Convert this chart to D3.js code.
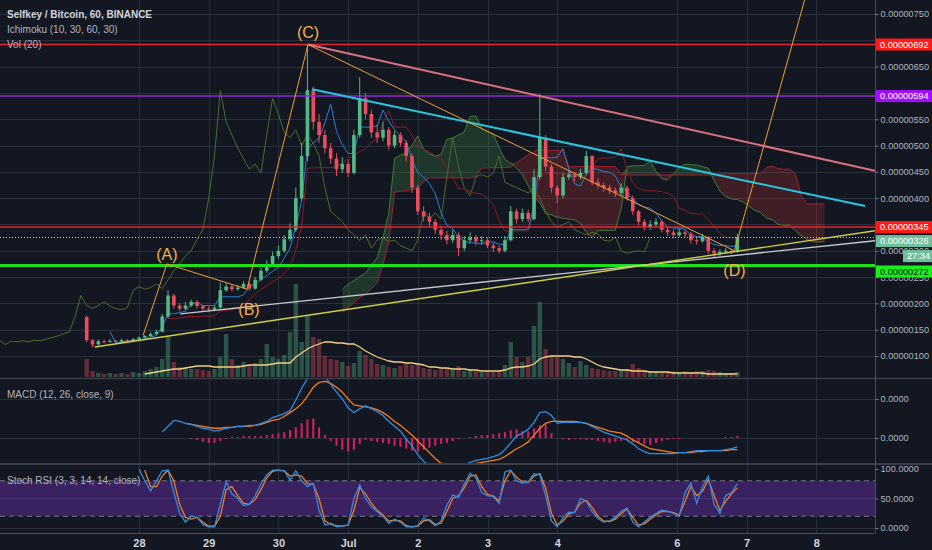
<!DOCTYPE html>
<html>
<head>
<meta charset="utf-8">
<script src="https://cdn.jsdelivr.net/npm/d3@7"></script>
<style>
html, body { margin: 0; padding: 0; background: #131722; overflow: hidden; }
svg { display: block; font-family: "Liberation Sans", Arial, sans-serif; }
</style>
</head>
<body>
<svg id="chart" width="932" height="550"></svg>
<script>
// Prices in satoshi (1e-8 BTC). Bar 0 = Jun 27 06:00.
var opens = [174,130,122,128,127,129,127,130,129,132,
  135,138,142,146,175,215,196,190,196,203,
  195,190,188,192,225,232,227,230,237,228,
  245,262,275,290,300,322,340,400,480,605,
  545,520,495,475,455,465,448,520,590,560,
  525,515,530,500,520,505,480,420,375,365,
  355,340,330,320,330,305,320,325,318,320,
  310,305,300,320,375,360,372,360,440,515,
  460,420,405,440,445,440,448,480,430,425,
  420,415,410,420,400,375,355,345,350,355,
  340,335,330,335,332,320,318,326,300,295,
  298,300,298];
var closes = [130,122,128,127,129,127,130,129,132,135,
  138,142,146,175,215,196,190,196,203,195,
  190,188,192,225,232,227,230,237,228,245,
  262,275,290,300,322,340,400,480,605,545,
  520,495,475,455,465,448,520,590,560,525,
  515,530,500,520,505,480,420,375,365,355,
  340,330,320,330,305,320,325,318,320,310,
  305,300,320,375,360,372,360,440,515,460,
  420,405,440,445,440,448,480,430,425,420,
  415,410,420,400,375,355,345,350,355,340,
  335,330,335,332,320,318,326,300,295,298,
  300,298,326];
var highs = [177,132,131,131,132,131,133,132,134,137,
  140,145,150,180,225,218,200,203,207,206,
  197,194,196,240,238,236,235,242,240,250,
  268,282,298,310,330,352,420,505,692,612,
  560,530,505,485,478,472,530,630,600,568,
  540,545,535,528,525,510,485,425,385,372,
  360,348,338,340,335,328,335,330,328,325,
  315,310,328,385,380,380,378,455,598,520,
  465,425,448,452,450,456,490,482,438,430,
  425,420,428,424,405,378,360,358,362,358,
  345,340,342,340,336,326,332,328,305,303,
  305,304,332];
var lows = [126,117,120,124,125,125,126,127,128,131,
  134,136,140,145,172,190,185,187,193,190,
  186,185,185,190,222,223,224,228,224,226,
  242,258,272,285,296,318,336,395,470,530,
  505,485,465,442,448,440,445,515,550,515,
  505,508,492,495,498,470,410,368,355,345,
  332,320,312,315,290,300,315,310,312,305,
  298,295,297,318,352,355,355,358,435,452,
  410,390,400,435,432,435,445,425,418,412,
  408,402,405,395,368,348,338,340,345,335,
  328,324,326,325,314,312,315,294,288,290,
  294,293,296];
var volumes = [18,6,4,3,4,3,4,3,5,4,
  6,8,10,18,40,15,10,9,8,8,
  7,6,8,20,43,18,12,15,12,14,
  18,33,20,18,22,45,93,35,61,40,
  38,21,18,17,15,11,14,26,22,18,
  13,12,10,9,11,13,12,14,9,8,
  7,8,9,7,11,6,7,6,5,6,
  5,6,12,35,20,15,20,51,75,28,
  22,20,18,14,10,16,12,9,8,7,
  6,6,7,8,13,9,7,6,6,5,
  5,6,5,6,5,6,6,7,6,5,
  4,4,5];
var volumeMA = [null,null,null,null,null,null,null,null,null,null,
  3,4,5,6,7,8,8,9,10,11,
  11,11,10,10,10,10,10,11,12,12,
  12,12,13,14,14,14,20,24,28,31,
  33,35,35,34,34,33,33,30,26,23,
  20,18,16,15,15,14,14,13,12,10,
  10,9,9,8,8,8,7,7,6,6,
  6,6,7,9,10,10,11,13,18,20,
  21,21,21,21,20,20,18,15,12,10,
  9,8,7,7,6,6,6,5,5,5,
  5,4,4,4,4,4,4,3,3,3,
  3,3,3];
var macdLine = [null,null,null,null,null,null,null,null,null,null,
  null,null,null,0.6,1.2,1.8,1.7,1.5,1.4,1.2,
  1.0,0.9,0.7,0.8,1.0,1.1,1.2,1.2,1.3,1.3,
  1.5,1.7,2.1,2.3,2.5,2.8,3.9,5.1,6.1,6.9,
  7.1,6.3,5.5,4.7,4.0,3.1,2.6,3.0,3.3,3.0,
  2.7,2.3,1.7,1.2,0.7,-0.1,-0.8,-1.7,-2.4,-2.9,
  -3.2,-3.4,-3.5,-3.4,-3.2,-2.8,-2.5,-2.3,-2.2,-2.1,
  -1.9,-1.7,-1.2,-0.5,0.2,0.5,0.9,1.6,2.6,2.7,
  2.3,1.5,1.6,1.6,1.6,1.6,1.5,1.2,0.9,0.6,
  0.4,0.2,0,-0.2,-0.6,-1.1,-1.4,-1.6,-1.6,-1.6,
  -1.6,-1.6,-1.5,-1.5,-1.4,-1.3,-1.3,-1.3,-1.3,-1.3,
  -1.2,-1.1,-0.9];
var signalLine = [null,null,null,null,null,null,null,null,null,null,
  null,null,null,null,null,null,null,1.5,1.4,1.3,
  1.2,1.1,1.0,1.0,1.1,1.1,1.2,1.2,1.2,1.3,
  1.4,1.6,1.8,1.9,2.2,2.6,3.0,3.5,4.3,5.2,
  5.7,5.8,5.6,5.2,4.7,4.0,3.4,3.3,3.2,3.1,
  2.9,2.6,2.2,1.7,1.3,0.8,0.3,-0.3,-0.9,-1.5,
  -2.1,-2.6,-2.9,-3.0,-3.1,-3.0,-2.8,-2.6,-2.5,-2.4,
  -2.3,-2.2,-1.9,-1.5,-1.1,-0.8,-0.4,0.3,1.0,1.5,
  1.7,1.7,1.7,1.7,1.7,1.6,1.5,1.3,1.1,0.9,
  0.7,0.6,0.5,0.2,-0.2,-0.5,-0.8,-1.1,-1.2,-1.3,
  -1.4,-1.5,-1.5,-1.5,-1.5,-1.4,-1.4,-1.3,-1.3,-1.3,
  -1.3,-1.2,-1.2];
var macdHist = [null,null,null,null,null,null,null,null,null,null,
  null,null,null,null,null,null,null,0.0,-0.1,-0.2,
  -0.4,-0.5,-0.5,-0.3,-0.1,0.1,0.1,0.2,0.2,0.2,
  0.2,0.3,0.4,0.5,0.6,0.8,1.1,1.5,1.9,2.0,
  1.1,0.3,-0.3,-0.8,-1.2,-1.4,-1.2,-0.6,-0.2,-0.3,
  -0.4,-0.5,-0.6,-0.8,-0.9,-1.1,-1.3,-1.4,-1.2,-1.0,
  -0.8,-0.6,-0.5,-0.3,-0.1,0.0,0.1,0.2,0.3,0.3,
  0.4,0.5,0.6,0.8,0.9,0.7,0.7,1.0,1.3,1.4,
  0.5,0.0,-0.1,-0.2,-0.1,-0.1,-0.2,-0.2,-0.3,-0.4,
  -0.5,-0.4,-0.3,-0.2,-0.4,-0.5,-0.6,-0.7,-0.5,-0.3,
  -0.2,-0.1,-0.1,0.0,0.0,0.0,0.0,0.0,0.0,0.0,
  0.1,0.1,0.2];
var stochK = [null,null,null,null,null,null,null,null,null,100,
  80,63,80,97,98,60,25,10,20,18,
  6,2,2,40,78,58,50,38,40,55,
  75,90,98,98,97,81,97,80,70,76,
  30,5,8,2,3,5,50,73,50,36,
  28,20,8,15,10,2,2,4,17,12,
  4,12,39,56,52,75,93,85,60,55,
  53,42,95,98,80,76,78,92,90,55,
  12,2,18,27,26,50,45,28,16,10,
  12,18,28,34,10,2,10,18,25,30,
  28,25,20,60,76,42,70,88,40,25,
  55,60,75];
var stochD = [null,null,null,null,null,null,null,null,null,null,
  98,70,70,88,98,80,40,18,15,18,
  10,3,3,20,65,70,55,42,40,48,
  65,85,96,98,97,88,90,88,75,74,
  50,12,6,4,3,5,30,68,58,42,
  30,22,12,13,12,4,2,3,12,14,
  6,8,28,50,55,68,88,90,70,57,
  54,46,80,97,86,78,77,88,92,68,
  25,5,12,24,27,42,47,35,20,12,
  11,15,24,32,18,5,7,15,22,28,
  28,26,22,45,70,55,62,82,55,30,
  45,58,68];

// axis labels
var dayLabels = ["28", "29", "30", "Jul", "2", "3", "4", "6", "7", "8"];
var dayBars = [9, 21, 33, 45, 57, 69, 81, 101.6, 113.6, 125.6];
var priceTicks = [100, 150, 200, 250, 300, 350, 400, 450, 500, 550, 600, 650, 700, 750];

// user drawings, in (bar, price)
var waveBars = [9.7, 13.8, 27.6, 38.1, 111.5, 124.1];
var wavePrices = [139, 275, 227, 692, 300, 797];
var waveNames = ["(A)", "(B)", "(C)", "(D)"];
var pinkBars = [38.1, 135.7], pinkPrices = [692, 452];
var cyanBars = [38.8, 134], cyanPrices = [607, 385];
var yellowBars = [1.4, 135.7], yellowPrices = [117, 338];
var greyBars = [16.1, 135.7], greyPrices = [180, 319];
var levels = [692, 594, 345, 272];
var lastPrice = 326;

var W = 932, H = 550, axisX = 875;
var mainBottom = 377, macdTop = 379, macdBottom = 463, rsiTop = 465, rsiBottom = 533;
var upC = "#53b987", dnC = "#eb4d5c", gridC = "#2a2f3d", textC = "#b2b5be";
var axisFont = 9.2;

var x = d3.scaleLinear().domain([0, 135.7]).range([86.7, axisX]);
var yP = d3.scaleLinear().domain([100, 750]).range([356, 14]);
var yV = d3.scaleLinear().domain([0, 100]).range([mainBottom, mainBottom - 100]);
var yM = d3.scaleLinear().domain([0, 4]).range([438, 399]);
var yR = d3.scaleLinear().domain([0, 100]).range([528, 469]);
var fmtP = function(v) { return (v * 1e-8).toFixed(8); };

var svg = d3.select("#chart");
svg.append("rect").attr("width", W).attr("height", H).attr("fill", "#131722");

var defs = svg.append("defs");
function clip(id, y0, y1) {
  defs.append("clipPath").attr("id", id).append("rect")
    .attr("x", 0).attr("y", y0).attr("width", axisX).attr("height", y1 - y0);
}
clip("clipMain", 0, mainBottom);
clip("clipMacd", macdTop, macdBottom);
clip("clipRsi", rsiTop, rsiBottom);

// grid
var grid = svg.append("g").attr("stroke", gridC).attr("stroke-width", 1);
grid.selectAll(".vg").data(dayBars).enter().append("line")
  .attr("x1", function(d) { return Math.round(x(d)) + 0.5; })
  .attr("x2", function(d) { return Math.round(x(d)) + 0.5; })
  .attr("y1", 0).attr("y2", rsiBottom);
grid.selectAll(".hg").data(priceTicks).enter().append("line")
  .attr("x1", 0).attr("x2", axisX)
  .attr("y1", function(d) { return Math.round(yP(d)) + 0.5; })
  .attr("y2", function(d) { return Math.round(yP(d)) + 0.5; });
[0, 4].forEach(function(v) {
  grid.append("line").attr("x1", 0).attr("x2", axisX)
    .attr("y1", Math.round(yM(v)) + 0.5).attr("y2", Math.round(yM(v)) + 0.5);
});
[0, 50].forEach(function(v) {
  grid.append("line").attr("x1", 0).attr("x2", axisX)
    .attr("y1", Math.round(yR(v)) + 0.5).attr("y2", Math.round(yR(v)) + 0.5);
});

/** Ichimoku (10, 30, 60, 30) on 1h = (5, 15, 30, 15) on 2h bars */
function midRange(period, i) {
  if (i < period - 1) return null;
  return (d3.max(highs.slice(i - period + 1, i + 1)) + d3.min(lows.slice(i - period + 1, i + 1))) / 2;
}
var shift = 15;
var tenkan = closes.map(function(c, i) { return {k: i, v: midRange(5, i)}; });
var kijun = closes.map(function(c, i) { return {k: i, v: midRange(15, i)}; });
var cloud = [];
closes.forEach(function(c, i) {
  var t = tenkan[i].v, kj = kijun[i].v, b = midRange(30, i);
  if (t != null && kj != null && b != null) cloud.push({k: i + shift, a: (t + kj) / 2, b: b});
});
var chikou = closes.map(function(c, i) { return {k: i - shift, v: c}; });

var main = svg.append("g").attr("clip-path", "url(#clipMain)");
var line = function(yS) {
  return d3.line().defined(function(d) { return d.v != null; })
    .x(function(d) { return x(d.k); }).y(function(d) { return yS(d.v); });
};

main.append("path").datum(cloud)
  .attr("fill", "rgba(67,160,71,0.24)")
  .attr("d", d3.area().x(function(d) { return x(d.k); })
    .y0(function(d) { return yP(d.b); })
    .y1(function(d) { return yP(Math.max(d.a, d.b)); }));
main.append("path").datum(cloud)
  .attr("fill", "rgba(229,57,53,0.22)")
  .attr("d", d3.area().x(function(d) { return x(d.k); })
    .y0(function(d) { return yP(d.a); })
    .y1(function(d) { return yP(Math.max(d.a, d.b)); }));
main.append("path").datum(cloud.map(function(d) { return {k: d.k, v: d.a}; }))
  .attr("fill", "none").attr("stroke", "#3f7d36").attr("stroke-width", 1).attr("d", line(yP));
main.append("path").datum(cloud.map(function(d) { return {k: d.k, v: d.b}; }))
  .attr("fill", "none").attr("stroke", "#a3202c").attr("stroke-width", 1).attr("d", line(yP));
main.append("path").datum(chikou)
  .attr("fill", "none").attr("stroke", "#4d6b2a").attr("stroke-width", 1).attr("d", line(yP));
main.append("path").datum(kijun)
  .attr("fill", "none").attr("stroke", "#8e1b24").attr("stroke-width", 1).attr("d", line(yP));
main.append("path").datum(tenkan)
  .attr("fill", "none").attr("stroke", "#2a7fd4").attr("stroke-width", 1).attr("d", line(yP));

// volume
var bars = closes.map(function(c, i) {
  return {k: i, o: opens[i], h: highs[i], l: lows[i], c: c, v: volumes[i]};
});
main.selectAll(".vol").data(bars).enter().append("rect")
  .attr("x", function(d) { return x(d.k) - 2.2; })
  .attr("width", 4.4)
  .attr("y", function(d) { return yV(d.v); })
  .attr("height", function(d) { return mainBottom - yV(d.v); })
  .attr("fill", function(d) { return d.c >= d.o ? "rgba(83,185,135,0.38)" : "rgba(235,77,92,0.38)"; });
main.append("path").datum(volumeMA.map(function(v, i) { return {k: i, v: v}; }))
  .attr("fill", "none").attr("stroke", "#f0d080").attr("stroke-width", 1.3).attr("d", line(yV));

// candles
var candle = main.append("g");
candle.selectAll(".wick").data(bars).enter().append("line")
  .attr("x1", function(d) { return x(d.k); }).attr("x2", function(d) { return x(d.k); })
  .attr("y1", function(d) { return yP(d.h); }).attr("y2", function(d) { return yP(d.l); })
  .attr("stroke", function(d) { return d.c >= d.o ? upC : dnC; }).attr("stroke-width", 1);
candle.selectAll(".body").data(bars).enter().append("rect")
  .attr("x", function(d) { return x(d.k) - 1.8; }).attr("width", 3.6)
  .attr("y", function(d) { return yP(Math.max(d.o, d.c)); })
  .attr("height", function(d) { return Math.max(1, Math.abs(yP(d.o) - yP(d.c))); })
  .attr("fill", function(d) { return d.c >= d.o ? upC : dnC; });

// horizontal levels and last price
var levelStyle = [["#e0262e", 1.5], ["#9027d8", 1.5], ["#e0262e", 1.5], ["#1fe01f", 3]];
main.selectAll(".lvl").data(levels).enter().append("line")
  .attr("x1", 0).attr("x2", axisX)
  .attr("y1", function(d) { return yP(d); }).attr("y2", function(d) { return yP(d); })
  .attr("stroke", function(d, i) { return levelStyle[i][0]; })
  .attr("stroke-width", function(d, i) { return levelStyle[i][1]; });
main.append("line").attr("x1", 0).attr("x2", axisX)
  .attr("y1", Math.round(yP(lastPrice)) + 0.5).attr("y2", Math.round(yP(lastPrice)) + 0.5)
  .attr("stroke", "#a9d9c3").attr("stroke-dasharray", "1,2");

// trend lines
function trend(bs, ps, color, w) {
  main.append("path").datum(bs.map(function(b, i) { return {k: b, v: ps[i]}; }))
    .attr("fill", "none").attr("stroke", color).attr("stroke-width", w).attr("d", line(yP));
}
trend(greyBars, greyPrices, "#c5c7cc", 1.4);
trend(yellowBars, yellowPrices, "#cfcf42", 1.4);
trend(pinkBars, pinkPrices, "#d9707e", 2);
trend(cyanBars, cyanPrices, "#2cc4dc", 2);
trend(waveBars, wavePrices, "#f0a030", 1);

// wave labels (A)-(D) at the pivots
var waveOff = [-4, 26, -7, 25];
main.selectAll(".wave").data(waveNames).enter().append("text")
  .attr("x", function(d, i) { return x(waveBars[i + 1]) + (i === 1 ? 2 : 0); })
  .attr("y", function(d, i) { return yP(wavePrices[i + 1]) + waveOff[i]; })
  .attr("text-anchor", "middle").attr("font-size", 16).attr("fill", "#f5b049")
  .text(function(d) { return d; });

// MACD pane
var macd = svg.append("g").attr("clip-path", "url(#clipMacd)");
macd.selectAll(".hist").data(macdHist.map(function(v, i) { return {k: i, v: v}; })
    .filter(function(d) { return d.v != null && d.v !== 0; }))
  .enter().append("rect")
  .attr("x", function(d) { return x(d.k) - 1; }).attr("width", 2)
  .attr("y", function(d) { return Math.min(yM(d.v), yM(0)); })
  .attr("height", function(d) { return Math.abs(yM(d.v) - yM(0)); })
  .attr("fill", "#d61f62");
macd.append("path").datum(signalLine.map(function(v, i) { return {k: i, v: v}; }))
  .attr("fill", "none").attr("stroke", "#f57c1f").attr("stroke-width", 1.3).attr("d", line(yM));
macd.append("path").datum(macdLine.map(function(v, i) { return {k: i, v: v}; }))
  .attr("fill", "none").attr("stroke", "#2f8de4").attr("stroke-width", 1.3).attr("d", line(yM));

// Stoch RSI pane
var rsi = svg.append("g").attr("clip-path", "url(#clipRsi)");
rsi.append("rect").attr("x", 0).attr("width", axisX)
  .attr("y", yR(80)).attr("height", yR(20) - yR(80)).attr("fill", "#3a215f");
rsi.append("line").attr("x1", 0).attr("x2", axisX).attr("y1", yR(50)).attr("y2", yR(50))
  .attr("stroke", "#4a3272");
[80, 20].forEach(function(v) {
  rsi.append("line").attr("x1", 0).attr("x2", axisX).attr("y1", yR(v)).attr("y2", yR(v))
    .attr("stroke", "#787b86").attr("stroke-dasharray", "5,4");
});
rsi.append("path").datum(stochD.map(function(v, i) { return {k: i, v: v}; }))
  .attr("fill", "none").attr("stroke", "#f57c1f").attr("stroke-width", 1.3).attr("d", line(yR));
rsi.append("path").datum(stochK.map(function(v, i) { return {k: i, v: v}; }))
  .attr("fill", "none").attr("stroke", "#2f8de4").attr("stroke-width", 1.3).attr("d", line(yR));

// pane separators
svg.append("line").attr("x1", 0).attr("x2", W).attr("y1", 378.5).attr("y2", 378.5)
  .attr("stroke", "#3b3f4c").attr("stroke-width", 1.5);
svg.append("line").attr("x1", 0).attr("x2", W).attr("y1", 464).attr("y2", 464)
  .attr("stroke", "#4a4e5a").attr("stroke-width", 1.5);
svg.append("line").attr("x1", 0).attr("x2", axisX).attr("y1", rsiBottom + 0.5).attr("y2", rsiBottom + 0.5)
  .attr("stroke", "#4a4e5a");

// price tags on the scale (full-width ones hide the tick label beneath)
var tags = [
  {text: fmtP(692), y: yP(692), fill: "#ff1a1a", color: "#ffffff", x: axisX + 1},
  {text: fmtP(594), y: yP(594), fill: "#a20dff", color: "#ffffff", x: axisX + 1},
  {text: fmtP(345), y: yP(345), fill: "#ff1a1a", color: "#ffffff", x: axisX + 1},
  {text: fmtP(lastPrice), y: yP(lastPrice) + 4, fill: "#6fbf9d", color: "#ffffff", x: axisX + 1},
  {text: "27:34", y: yP(lastPrice) + 19, fill: "#6fbf9d", color: "#ffffff", x: 903},
  {text: fmtP(272), y: yP(272) + 6, fill: "#19f019", color: "#0e1118", x: axisX + 1}
];
var shownTicks = priceTicks.filter(function(v) {
  return !tags.some(function(t) { return t.x < 880 && Math.abs(t.y - yP(v)) < 5; });
});

// axes
function styleAxis(g) {
  g.select(".domain").attr("stroke", "#4a4e5a");
  g.selectAll(".tick line").attr("stroke", "#787b86");
  g.selectAll("text").attr("fill", textC).attr("font-size", axisFont)
    .attr("font-family", "Liberation Sans, Arial, sans-serif");
}
svg.append("g").attr("transform", "translate(" + (axisX + 0.5) + ",0)")
  .call(d3.axisRight(yP).tickValues(shownTicks).tickFormat(fmtP).tickSize(3).tickPadding(2))
  .call(styleAxis)
  .call(function(g) { g.select(".domain").attr("d", "M0,0V" + rsiBottom); });
svg.append("g").attr("transform", "translate(" + (axisX + 0.5) + ",0)")
  .call(d3.axisRight(yM).tickValues([0, 4]).tickFormat(function(d) { return (d * 1e-8).toFixed(4); })
    .tickSize(3).tickPadding(2))
  .call(styleAxis).call(function(g) { g.select(".domain").remove(); });
svg.append("g").attr("transform", "translate(" + (axisX + 0.5) + ",0)")
  .call(d3.axisRight(yR).tickValues([0, 50, 100]).tickFormat(function(d) { return d.toFixed(4); })
    .tickSize(3).tickPadding(2))
  .call(styleAxis).call(function(g) { g.select(".domain").remove(); });
svg.append("g").attr("transform", "translate(0," + rsiBottom + ")")
  .call(d3.axisBottom(x).tickValues(dayBars).tickFormat(function(d, i) { return dayLabels[i]; })
    .tickSize(0).tickPadding(6))
  .call(styleAxis)
  .call(function(g) {
    g.select(".domain").remove();
    g.selectAll("text").attr("font-size", 11).attr("font-weight", "bold").attr("fill", "#d1d4dc");
  });

var tagG = svg.selectAll(".tag").data(tags).enter().append("g");
tagG.append("rect")
  .attr("x", function(d) { return d.x; }).attr("width", function(d) { return W - d.x; })
  .attr("y", function(d) { return d.y - 6; }).attr("height", 12)
  .attr("fill", function(d) { return d.fill; });
tagG.append("text")
  .attr("x", function(d) { return d.x + 4; }).attr("y", function(d) { return d.y + 3.3; })
  .attr("font-size", axisFont).attr("fill", function(d) { return d.color; })
  .text(function(d) { return d.text; });

// legends
var leg = svg.append("g").attr("font-size", 10).attr("fill", textC);
leg.append("text").attr("x", 7).attr("y", 18).attr("font-weight", "bold").attr("fill", "#d1d4dc")
  .text("Selfkey / Bitcoin, 60, BINANCE");
leg.append("text").attr("x", 7).attr("y", 33).text("Ichimoku (10, 30, 60, 30)");
leg.append("text").attr("x", 7).attr("y", 48).text("Vol (20)");
leg.append("text").attr("x", 7).attr("y", 398).text("MACD (12, 26, close, 9)");
leg.append("text").attr("x", 7).attr("y", 484).text("Stoch RSI (3, 3, 14, 14, close)");
</script>
</body>
</html>
